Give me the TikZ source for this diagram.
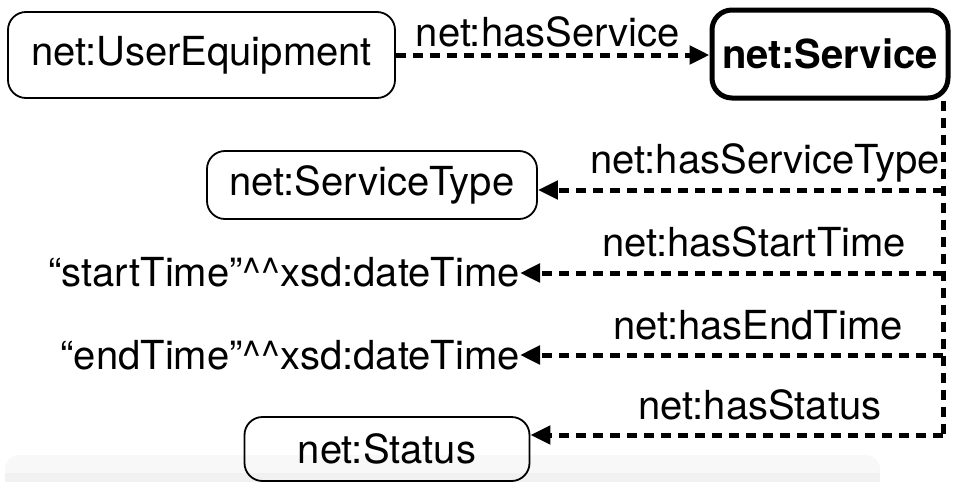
\documentclass[tikz,border=0pt]{standalone}
\usepackage{fontspec}
\setmainfont{TeX Gyre Heros}
\usetikzlibrary{arrows.meta}
\definecolor{panelA}{HTML}{F8F8F8}
\definecolor{panelB}{HTML}{F1F1F1}
\tikzset{
  txt/.style={font=\fontsize{40}{46}\selectfont, inner sep=0pt},
  cls/.style={txt, draw, line width=1.8pt, rounded corners=18pt},
  mainbox/.style={txt, draw, line width=5pt, rounded corners=20pt, font=\fontsize{40}{46}\selectfont\bfseries},
  rel/.style={line width=5pt, dash pattern=on 10pt off 7pt},
  relarrow/.style={rel, -{Triangle[length=20pt,width=18pt]}},
}
\begin{document}
\begin{tikzpicture}[x=1pt,y=-1pt]
  \useasboundingbox (0,0) rectangle (956,482);

  % faint panel along the lower edge
  \fill[panelA, rounded corners=14pt] (5,455) rectangle (880,520);
  \fill[panelB] (5,473) rectangle (880,482);

  % classes and literals
  \node[cls, minimum width=387pt, minimum height=86pt] (ue) at (201.5,55) {net:UserEquipment};
  \node[mainbox, minimum width=236pt, minimum height=88pt] (svc) at (830,54) {net:Service};
  \node[cls, minimum width=330pt, minimum height=68pt] (stype) at (372,185) {net:ServiceType};
  \node[txt, anchor=east] (start) at (520,272) {“startTime”\^{}\^{}xsd:dateTime};
  \node[txt, anchor=east] (end) at (520,355) {“endTime”\^{}\^{}xsd:dateTime};
  \node[cls, minimum width=285pt, minimum height=64pt] (status) at (387,449) {net:Status};

  % junctions on the vertical trunk
  \coordinate (j1) at (943,190);
  \coordinate (j2) at (943,273);
  \coordinate (j3) at (943,355);
  \coordinate (j4) at (943,435);

  % relations
  \draw[relarrow] (ue.east) -- (svc.west |- ue.east);
  \draw[rel] (svc.south -| j4) -- (j4);
  \draw[relarrow] (j1) -- (j1 -| stype.east);
  \draw[relarrow] (j2) -- (start.east |- j2);
  \draw[relarrow] (j3) -- (end.east |- j3);
  \draw[relarrow] (j4) -- (j4 -| status.east);

  % relation labels
  \node[txt] (lsvc) at (548,32) {net:hasService};
  \node[txt, anchor=east] (ltype) at (940,163) {net:hasServiceType};
  \node[txt] (lstart) at (754,242) {net:hasStartTime};
  \node[txt] (lend) at (758,325) {net:hasEndTime};
  \node[txt] (lstatus) at (760,405) {net:hasStatus};
\end{tikzpicture}
\end{document}
